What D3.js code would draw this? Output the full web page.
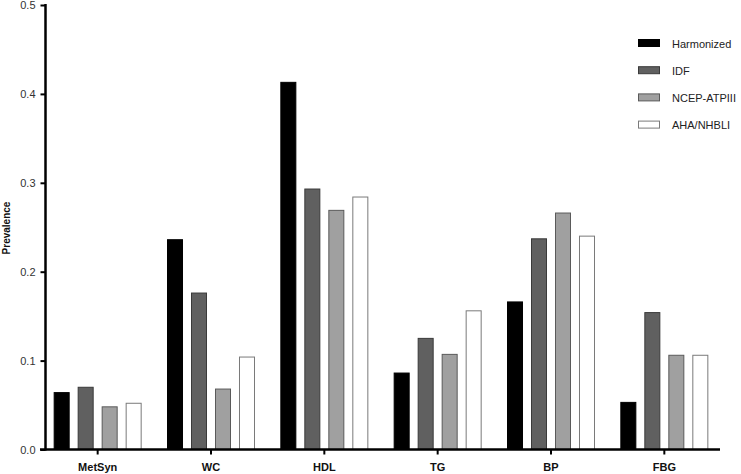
<!DOCTYPE html>
<html>
<head>
<meta charset="utf-8">
<script src="https://cdn.jsdelivr.net/npm/d3@7"></script>
<style>
  body { margin: 0; background: #fff; }
  svg { display: block; font-family: "Liberation Sans", Arial, sans-serif; }
</style>
</head>
<body>
<div id="chart"></div>
<script>
const width = 741;
const height = 474;

// Data
const categories = ['MetSyn', 'WC', 'HDL', 'TG', 'BP', 'FBG'];
const seriesNames = ['Harmonized', 'IDF', 'NCEP-ATPIII', 'AHA/NHBLI'];
const harmonized = [0.064, 0.236, 0.413, 0.086, 0.166, 0.053];
const idf = [0.070, 0.176, 0.293, 0.125, 0.237, 0.154];
const ncep = [0.048, 0.068, 0.269, 0.107, 0.266, 0.106];
const aha = [0.052, 0.104, 0.284, 0.156, 0.240, 0.106];
const yTicks = [0, 0.1, 0.2, 0.3, 0.4, 0.5];

const fills = ['#000000', '#606060', '#a0a0a0', '#ffffff'];
const strokes = ['#000000', '#3a3a3a', '#5a5a5a', '#7a7a7a'];
const allSeries = [harmonized, idf, ncep, aha];

const svg = d3.select('#chart')
  .append('svg')
  .attr('width', width)
  .attr('height', height);

// Scales
const x = d3.scaleBand()
  .domain(categories)
  .range([41, 721]);
const xInner = d3.scaleBand()
  .domain(seriesNames)
  .range([-44, 44])
  .paddingInner(0.333);
const y = d3.scaleLinear()
  .domain([0, 0.5])
  .range([449.5, 5]);

// Bars
categories.forEach((cat, ci) => {
  const cx = x(cat) + x.bandwidth() / 2;
  svg.selectAll(null)
    .data(seriesNames)
    .enter()
    .append('rect')
    .attr('x', s => cx + xInner(s) + 0.5)
    .attr('y', (s, si) => y(allSeries[si][ci]))
    .attr('width', xInner.bandwidth() - 1)
    .attr('height', (s, si) => y(0) - y(allSeries[si][ci]))
    .attr('fill', (s, si) => fills[si])
    .attr('stroke', (s, si) => strokes[si])
    .attr('stroke-width', 1);
});

// Y axis
const yAxis = d3.axisLeft(y)
  .tickValues(yTicks)
  .tickFormat(d3.format('.1f'))
  .tickSize(5)
  .tickPadding(5)
  .tickSizeOuter(0);
const gy = svg.append('g')
  .attr('transform', 'translate(45.5, 0)')
  .call(yAxis);
gy.select('.domain').attr('stroke', '#000').attr('stroke-width', 2.5)
  .attr('d', `M0,${y(0.5) - 1}V${y(0) + 1}`);
gy.selectAll('.tick line').attr('stroke', '#000').attr('stroke-width', 2);
gy.selectAll('.tick text')
  .attr('font-size', 11)
  .attr('fill', '#333')
  .attr('font-family', '"Liberation Sans", Arial, sans-serif');

// X axis
const xAxis = d3.axisBottom(x)
  .tickSize(5)
  .tickPadding(9)
  .tickSizeOuter(0);
const gx = svg.append('g')
  .attr('transform', `translate(0, ${y(0)})`)
  .call(xAxis);
gx.select('.domain').attr('stroke', '#000').attr('stroke-width', 2.5)
  .attr('d', 'M40,0H720');
gx.selectAll('.tick line').attr('stroke', '#000').attr('stroke-width', 2);
gx.selectAll('.tick text')
  .attr('font-size', 11)
  .attr('font-weight', 'bold')
  .attr('fill', '#111')
  .attr('font-family', '"Liberation Sans", Arial, sans-serif');

// Axis label
svg.append('text')
  .attr('transform', 'translate(10, 228) rotate(-90)')
  .attr('text-anchor', 'middle')
  .attr('font-size', 10)
  .attr('font-weight', 'bold')
  .attr('fill', '#111')
  .text('Prevalence');

// Legend
const legend = svg.append('g')
  .attr('transform', 'translate(638, 39)');
seriesNames.forEach((name, i) => {
  const row = legend.append('g').attr('transform', `translate(0, ${i * 27.2})`);
  row.append('rect')
    .attr('x', 0.5)
    .attr('y', 0.5)
    .attr('width', 21)
    .attr('height', 7)
    .attr('fill', fills[i])
    .attr('stroke', strokes[i]);
  row.append('text')
    .attr('x', 34)
    .attr('y', 8.5)
    .attr('font-size', 11)
    .attr('fill', '#222')
    .text(name);
});
</script>
</body>
</html>
